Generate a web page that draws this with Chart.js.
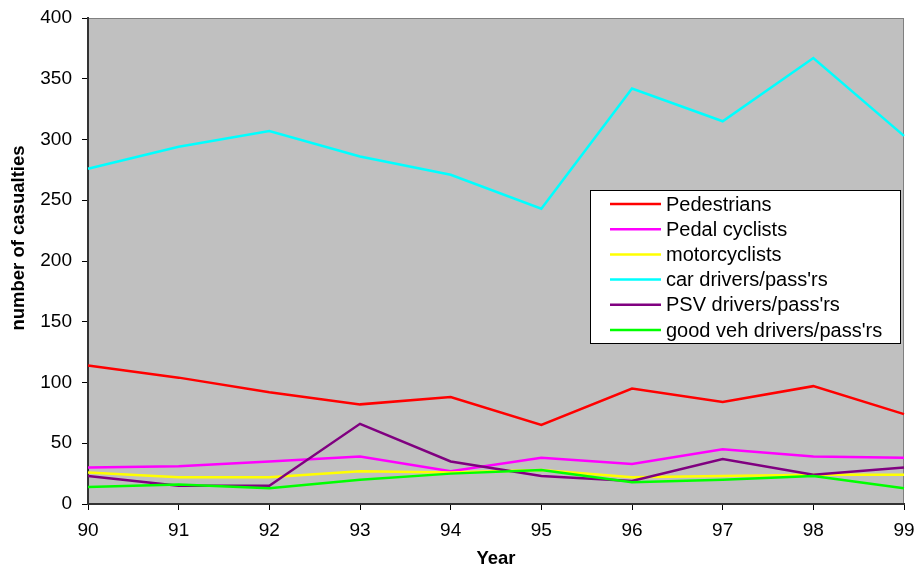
<!DOCTYPE html>
<html>
<head>
<meta charset="utf-8">
<script src="https://cdn.jsdelivr.net/npm/chart.js@4.4.0/dist/chart.umd.min.js"></script>
<style>
  body { margin: 0; background: #fff; }
  canvas { display: block; }
</style>
</head>
<body>
<canvas id="chart" width="916" height="572"></canvas>
<script>
const years = ['90', '91', '92', '93', '94', '95', '96', '97', '98', '99'];
const pedestrians = [114, 104, 92, 82, 88, 65, 95, 84, 97, 74];
const pedalCyclists = [30, 31, 35, 39, 27, 38, 33, 45, 39, 38];
const motorcyclists = [26, 22, 22, 27, 26, 28, 22, 23, 24, 24];
const carDrivers = [276, 294, 307, 286, 271, 243, 342, 315, 367, 303];
const psvDrivers = [23, 15, 15, 66, 35, 23, 19, 37, 24, 30];
const goodsVehDrivers = [14, 16, 13, 20, 25, 28, 18, 20, 23, 13];

const seriesNames = ['Pedestrians', 'Pedal cyclists', 'motorcyclists', "car drivers/pass'rs", "PSV drivers/pass'rs", "good veh drivers/pass'rs"];
const seriesColors = ['#ff0000', '#ff00ff', '#ffff00', '#00ffff', '#800080', '#00ff00'];
const seriesData = [pedestrians, pedalCyclists, motorcyclists, carDrivers, psvDrivers, goodsVehDrivers];

const FONT = '"Liberation Sans", Arial, sans-serif';

// grey plot area with thin border
const plotBg = {
  id: 'plotBg',
  beforeDraw(chart) {
    const { ctx, chartArea: a } = chart;
    ctx.save();
    ctx.fillStyle = '#c0c0c0';
    ctx.fillRect(a.left, a.top, a.right - a.left, a.bottom - a.top);
    ctx.strokeStyle = '#808080';
    ctx.lineWidth = 1;
    ctx.strokeRect(a.left + 0.5, a.top + 0.5, a.right - a.left - 1, a.bottom - a.top);
    ctx.restore();
  }
};

// boxed legend inside the plot + y axis title placed like the original
const boxLegend = {
  id: 'boxLegend',
  afterDraw(chart) {
    const { ctx } = chart;
    const x = 590, y = 190, w = 310, h = 153;
    ctx.save();
    ctx.fillStyle = '#fff';
    ctx.fillRect(x, y, w, h);
    ctx.strokeStyle = '#000';
    ctx.lineWidth = 1;
    ctx.strokeRect(x + 0.5, y + 0.5, w, h);
    ctx.font = '20px ' + FONT;
    ctx.textBaseline = 'middle';
    chart.data.datasets.forEach((ds, i) => {
      const ry = 204 + i * 25.2;
      ctx.strokeStyle = ds.borderColor;
      ctx.lineWidth = 2.5;
      ctx.beginPath();
      ctx.moveTo(610, ry);
      ctx.lineTo(661, ry);
      ctx.stroke();
      ctx.fillStyle = '#000';
      ctx.fillText(ds.label, 666, ry + 1);
    });

    ctx.translate(19, 238);
    ctx.rotate(-Math.PI / 2);
    ctx.font = 'bold 18.5px ' + FONT;
    ctx.textAlign = 'center';
    ctx.fillText('number of casualties', 0, 0);
    ctx.restore();
  }
};

new Chart(document.getElementById('chart'), {
  type: 'line',
  data: {
    labels: years,
    datasets: seriesNames.map((name, i) => ({
      label: name,
      data: seriesData[i],
      borderColor: seriesColors[i],
      backgroundColor: seriesColors[i],
      borderWidth: 2.5,
      pointRadius: 0,
      tension: 0,
      fill: false,
      order: -i
    }))
  },
  options: {
    responsive: false,
    animation: false,
    layout: { padding: { left: 0, top: 18, right: 12, bottom: 0 } },
    plugins: {
      legend: { display: false },
      tooltip: { enabled: false }
    },
    scales: {
      x: {
        offset: false,
        grid: { drawOnChartArea: false, drawTicks: true, tickLength: 6, tickColor: '#000', offset: false },
        border: { color: '#333', width: 2 },
        ticks: { color: '#000', font: { family: FONT, size: 19 }, padding: 9, maxRotation: 0 },
        title: { display: true, text: 'Year', color: '#000', font: { family: FONT, size: 18.5, weight: 'bold' }, padding: { top: 0, bottom: 2 } },
        afterFit(scale) {
          scale.height = 68;
          scale.paddingLeft = 0;
          scale.paddingRight = 0;
        }
      },
      y: {
        min: 0,
        max: 400,
        ticks: { stepSize: 50, color: '#000', font: { family: FONT, size: 19 }, padding: 10 },
        grid: { drawOnChartArea: false, drawTicks: true, tickLength: 6, tickColor: '#000' },
        border: { color: '#333', width: 2 },
        afterFit(scale) {
          scale.width = 88;
          scale.paddingTop = 0;
          scale.paddingBottom = 0;
        }
      }
    }
  },
  plugins: [plotBg, boxLegend]
});
</script>
</body>
</html>
